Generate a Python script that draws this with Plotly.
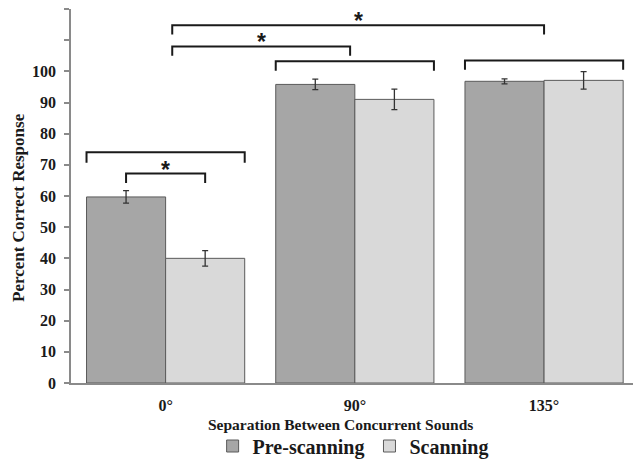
import plotly.graph_objects as go

categories = ["0°", "90°", "135°"]
pre_scanning = [59.7, 95.8, 96.8]
pre_err = [2.0, 1.7, 0.8]
scanning = [40.0, 91.0, 97.1]
scan_err = [2.5, 3.3, 2.8]
y_ticks = [0, 10, 20, 30, 40, 50, 60, 70, 80, 90, 100, 110, 120]
y_tick_labels = ["0", "10", "20", "30", "40", "50", "60", "70", "80", "90", "100", "", ""]

xpos = list(range(len(categories)))
FONT = "Liberation Serif"
DARK = "#1a1a1a"
AXIS = "#8a8a8a"

fig = go.Figure()
fig.add_trace(go.Bar(
    x=xpos, y=pre_scanning, name="Pre-scanning",
    marker=dict(color="#a6a6a6", line=dict(color="#5a5a5a", width=1)),
    error_y=dict(type="data", array=pre_err, color="#333333", thickness=1.3, width=3),
))
fig.add_trace(go.Bar(
    x=xpos, y=scanning, name="Scanning",
    marker=dict(color="#d9d9d9", line=dict(color="#5a5a5a", width=1)),
    error_y=dict(type="data", array=scan_err, color="#333333", thickness=1.3, width=3),
))

BARGAP = 0.164
half = (1 - BARGAP) / 2  # width of one bar in category units
off = half / 2           # bar centre offset

# brackets: (x0, x1, y_top, leg_length, star)
brackets = [
    (xpos[0] - 2 * off, xpos[0] + 2 * off, 74.0, 3.3, False),
    (xpos[0] - off, xpos[0] + off, 67.2, 3.0, True),
    (xpos[1] - 2 * off, xpos[1] + 2 * off, 103.2, 3.0, False),
    (xpos[2] - 2 * off, xpos[2] + 2 * off, 103.5, 3.0, False),
    (xpos[0] + 0.035, xpos[1] - 0.025, 108.0, 3.0, True),
    (xpos[0] + 0.035, xpos[2], 114.8, 3.0, True),
]
for x0, x1, yt, leg, star in brackets:
    fig.add_shape(
        type="path", xref="x", yref="y",
        path=f"M{x0},{yt - leg} L{x0},{yt} L{x1},{yt} L{x1},{yt - leg}",
        line=dict(color=DARK, width=2),
    )
    if star:
        fig.add_annotation(
            x=(x0 + x1) / 2, y=yt, xref="x", yref="y", text="*",
            showarrow=False, yanchor="bottom", yshift=-11,
            font=dict(family="Liberation Sans", size=23, color=DARK, weight="bold"),
        )

# axis titles
fig.add_annotation(
    text="Separation Between Concurrent Sounds", xref="paper", yref="paper",
    x=(340 - 71) / 562, y=(383 - 424) / 374, xanchor="center", yanchor="middle",
    showarrow=False, font=dict(family=FONT, size=15.5, color=DARK, weight="bold"),
)
fig.add_annotation(
    text="Percent Correct Response", xref="paper", yref="paper",
    x=(18 - 71) / 562, y=(383 - 208) / 374, xanchor="center", yanchor="middle",
    textangle=-90, showarrow=False,
    font=dict(family=FONT, size=17, color=DARK, weight="bold"),
)

fig.update_layout(
    width=633, height=460,
    margin=dict(l=71, r=0, t=9, b=77, autoexpand=False),
    plot_bgcolor="white", paper_bgcolor="white",
    barmode="group", bargap=BARGAP, bargroupgap=0,
    showlegend=True,
    legend=dict(
        orientation="h", x=0.502, xanchor="center",
        y=(383 - 446) / 374, yanchor="middle",
        font=dict(family=FONT, size=20, color=DARK, weight="bold"),
        itemclick=False, traceorder="normal",
    ),
    xaxis=dict(
        range=[-0.5, 2.47], tickvals=xpos, ticktext=categories,
        showline=True, linecolor=AXIS, linewidth=1.5, ticks="",
        showgrid=False, zeroline=False, ticklabelstandoff=7,
        tickfont=dict(family=FONT, size=16, color=DARK, weight="bold"),
    ),
    yaxis=dict(
        range=[0, 120], tickvals=y_ticks, ticktext=y_tick_labels,
        showline=True, linecolor=AXIS, linewidth=1.5,
        ticks="outside", ticklen=5, tickcolor=AXIS, tickwidth=1.5,
        showgrid=False, zeroline=False, ticklabelstandoff=5,
        tickfont=dict(family=FONT, size=16, color=DARK, weight="bold"),
    ),
)

fig.write_html("out.html")
